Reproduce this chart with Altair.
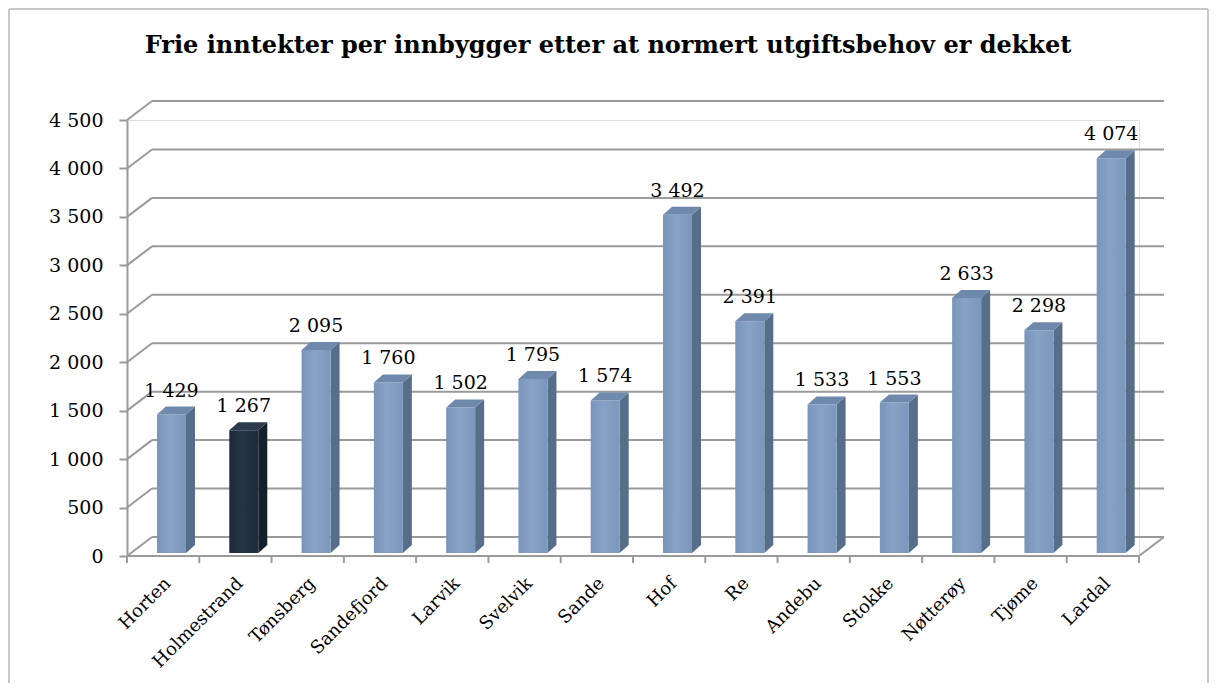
import altair as alt
import pandas as pd

# ---- data ----
names = ["Horten", "Holmestrand", "Tønsberg", "Sandefjord", "Larvik", "Svelvik", "Sande",
         "Hof", "Re", "Andebu", "Stokke", "Nøtterøy", "Tjøme", "Lardal"]
values = [1429, 1267, 2095, 1760, 1502, 1795, 1574, 3492, 2391, 1533, 1553, 2633, 2298, 4074]
highlight = "Holmestrand"
y_ticks = [0, 500, 1000, 1500, 2000, 2500, 3000, 3500, 4000, 4500]
title = "Frie inntekter per innbygger etter at normert utgiftsbehov er dekket"

# ---- geometry / style (pixels) ----
W, H = 1012, 436
N = len(names)
YMAX = 4500
PX = N / W          # data units per px (x)
PY = YMAX / H       # data units per px (y)
BAR_L, BAR_W = 30, 29
DX, DY = 9, 8       # bar depth
WX, WY = 25, 19     # wall depth
LIFT = -3

FONT = "DejaVu Serif"
GRID = "#9A9A9A"
FRONT = {"x1": 0, "y1": 0, "x2": 1, "y2": 0, "gradient": "linear",
         "stops": [{"offset": 0, "color": "#7895BA"}, {"offset": 0.45, "color": "#87A2C5"},
                   {"offset": 1, "color": "#7A97BC"}]}
FRONT_H = {"x1": 0, "y1": 0, "x2": 1, "y2": 0, "gradient": "linear",
           "stops": [{"offset": 0, "color": "#1D2A39"}, {"offset": 0.45, "color": "#243345"},
                     {"offset": 1, "color": "#1E2B3A"}]}
SIDE, TOP = "#566E8A", "#6E89AC"
SIDE_H, TOP_H = "#16202B", "#2B3A4C"

xs = alt.Scale(domain=[0, N], range=[0, W], zero=False, nice=False)
ys = alt.Scale(domain=[0, YMAX], range=[H, 0], zero=False, nice=False)
yaxis = alt.Axis(values=y_ticks, title=None, grid=False,
                 labelExpr="replace(format(datum.value, ','), ',', ' ')",
                 labelFont=FONT, labelFontSize=19, labelColor="black",
                 labelPadding=16, tickSize=8, tickColor=GRID, tickWidth=2,
                 domainColor=GRID, domainWidth=2)


def X(f):
    return alt.X(f, type="quantitative", scale=xs, axis=None)


def Y(f):
    return alt.Y(f, type="quantitative", scale=ys, axis=yaxis)


# ---- derived tables ----
bars = pd.DataFrame({"name": names, "v": values})
bars["i"] = range(N)
bars["x1"] = bars["i"] + BAR_L * PX
bars["x2"] = bars["x1"] + BAR_W * PX
bars["xc"] = (bars["x1"] + bars["x2"]) / 2
bars["xl"] = bars["i"] + 0.5
bars["zero"] = 0
bars["label"] = bars["v"].map(lambda v: f"{v:,}".replace(",", " "))

side_rows, top_rows = [], []
for _, r in bars.iterrows():
    side_rows.append({"name": r["name"], "x": r["x2"], "y": r["v"], "y2": 0})
    side_rows.append({"name": r["name"], "x": r["x2"] + DX * PX, "y": r["v"] + DY * PY, "y2": DY * PY})
    top_rows.append({"name": r["name"], "y": r["v"], "x": r["x1"], "x2": r["x2"]})
    top_rows.append({"name": r["name"], "y": r["v"] + DY * PY, "x": r["x1"] + DX * PX, "x2": r["x2"] + DX * PX})
side = pd.DataFrame(side_rows)
top = pd.DataFrame(top_rows)

grid = pd.DataFrame({"t": y_ticks})
grid["x0"] = 0
grid["xw"] = WX * PX
grid["xe"] = N + WX * PX
grid["tb"] = grid["t"] + WY * PY

floor = pd.DataFrame({"x": [0, N], "x2": [N, N + WX * PX], "y": [0, 0], "y2": [0, WY * PY]})
ticks = pd.DataFrame({"x": list(range(N + 1))})

is_hl = alt.datum.name == highlight

# ---- layers ----
diag = alt.Chart(grid).mark_rule(color=GRID, strokeWidth=2).encode(
    x=X("x0"), x2="xw", y=Y("t"), y2="tb")
back = alt.Chart(grid).mark_rule(color=GRID, strokeWidth=2).encode(
    x=X("xw"), x2="xe", y=Y("tb"))
floor_l = alt.Chart(floor).mark_rule(color=GRID, strokeWidth=2).encode(
    x=X("x"), x2="x2", y=Y("y"), y2="y2")
tick_l = alt.Chart(ticks).mark_rule(color=GRID, strokeWidth=2).encode(
    x=X("x"), y=alt.value(H), y2=alt.value(H + 7))

front_l = alt.Chart(bars).mark_rect(yOffset=LIFT, y2Offset=LIFT).encode(
    x=X("x1"), x2="x2", y=Y("v"), y2="zero",
    color=alt.condition(is_hl, alt.value(FRONT_H), alt.value(FRONT)))
side_l = alt.Chart(side).mark_area(orient="vertical", yOffset=LIFT, y2Offset=LIFT).encode(
    x=X("x"), y=Y("y"), y2="y2", detail="name:N",
    color=alt.condition(is_hl, alt.value(SIDE_H), alt.value(SIDE)))
top_l = alt.Chart(top).mark_area(orient="horizontal", yOffset=LIFT).encode(
    y=Y("y"), x=X("x"), x2="x2", detail="name:N",
    color=alt.condition(is_hl, alt.value(TOP_H), alt.value(TOP)))

vlabels = alt.Chart(bars).mark_text(font=FONT, fontSize=19, color="black", baseline="alphabetic",
                                    align="center", dy=-18 + LIFT).encode(
    x=X("xc"), y=Y("v"), text="label:N")
clabels = alt.Chart(bars).mark_text(font=FONT, fontSize=18, color="black", angle=315,
                                    align="right", baseline="middle", xOffset=5).encode(
    x=X("xl"), y=alt.value(H + 25), text="name:N")

title_l = alt.Chart(pd.DataFrame({"t": [title]})).mark_text(
    font=FONT, fontSize=24, fontWeight="bold", color="black", align="center", baseline="alphabetic"
).encode(x=alt.value(481), y=alt.value(-67), text="t:N")

border = pd.DataFrame({"k": [0]})
b_left = alt.Chart(border).mark_rule(color="#C8C8C8", strokeWidth=2).encode(
    x=alt.value(-118), y=alt.value(-111), y2=alt.value(H + 130))
b_top = alt.Chart(border).mark_rule(color="#C8C8C8", strokeWidth=2).encode(
    x=alt.value(-118), x2=alt.value(W + 69), y=alt.value(-111))
b_right = alt.Chart(border).mark_rule(color="#C8C8C8", strokeWidth=2).encode(
    x=alt.value(W + 69), y=alt.value(-111), y2=alt.value(H + 130))

chart = alt.layer(
    b_left, b_top, b_right,
    diag, back, floor_l, tick_l,
    side_l, front_l, top_l,
    vlabels, clabels, title_l,
).properties(
    width=W, height=H,
    autosize=alt.AutoSizeParams(type="none"),
    padding={"left": 119, "top": 112, "right": 70, "bottom": 127},
).configure_view(stroke=None).configure(background="white")

chart.save("out.html", embed_options={"renderer": "svg", "actions": False})
